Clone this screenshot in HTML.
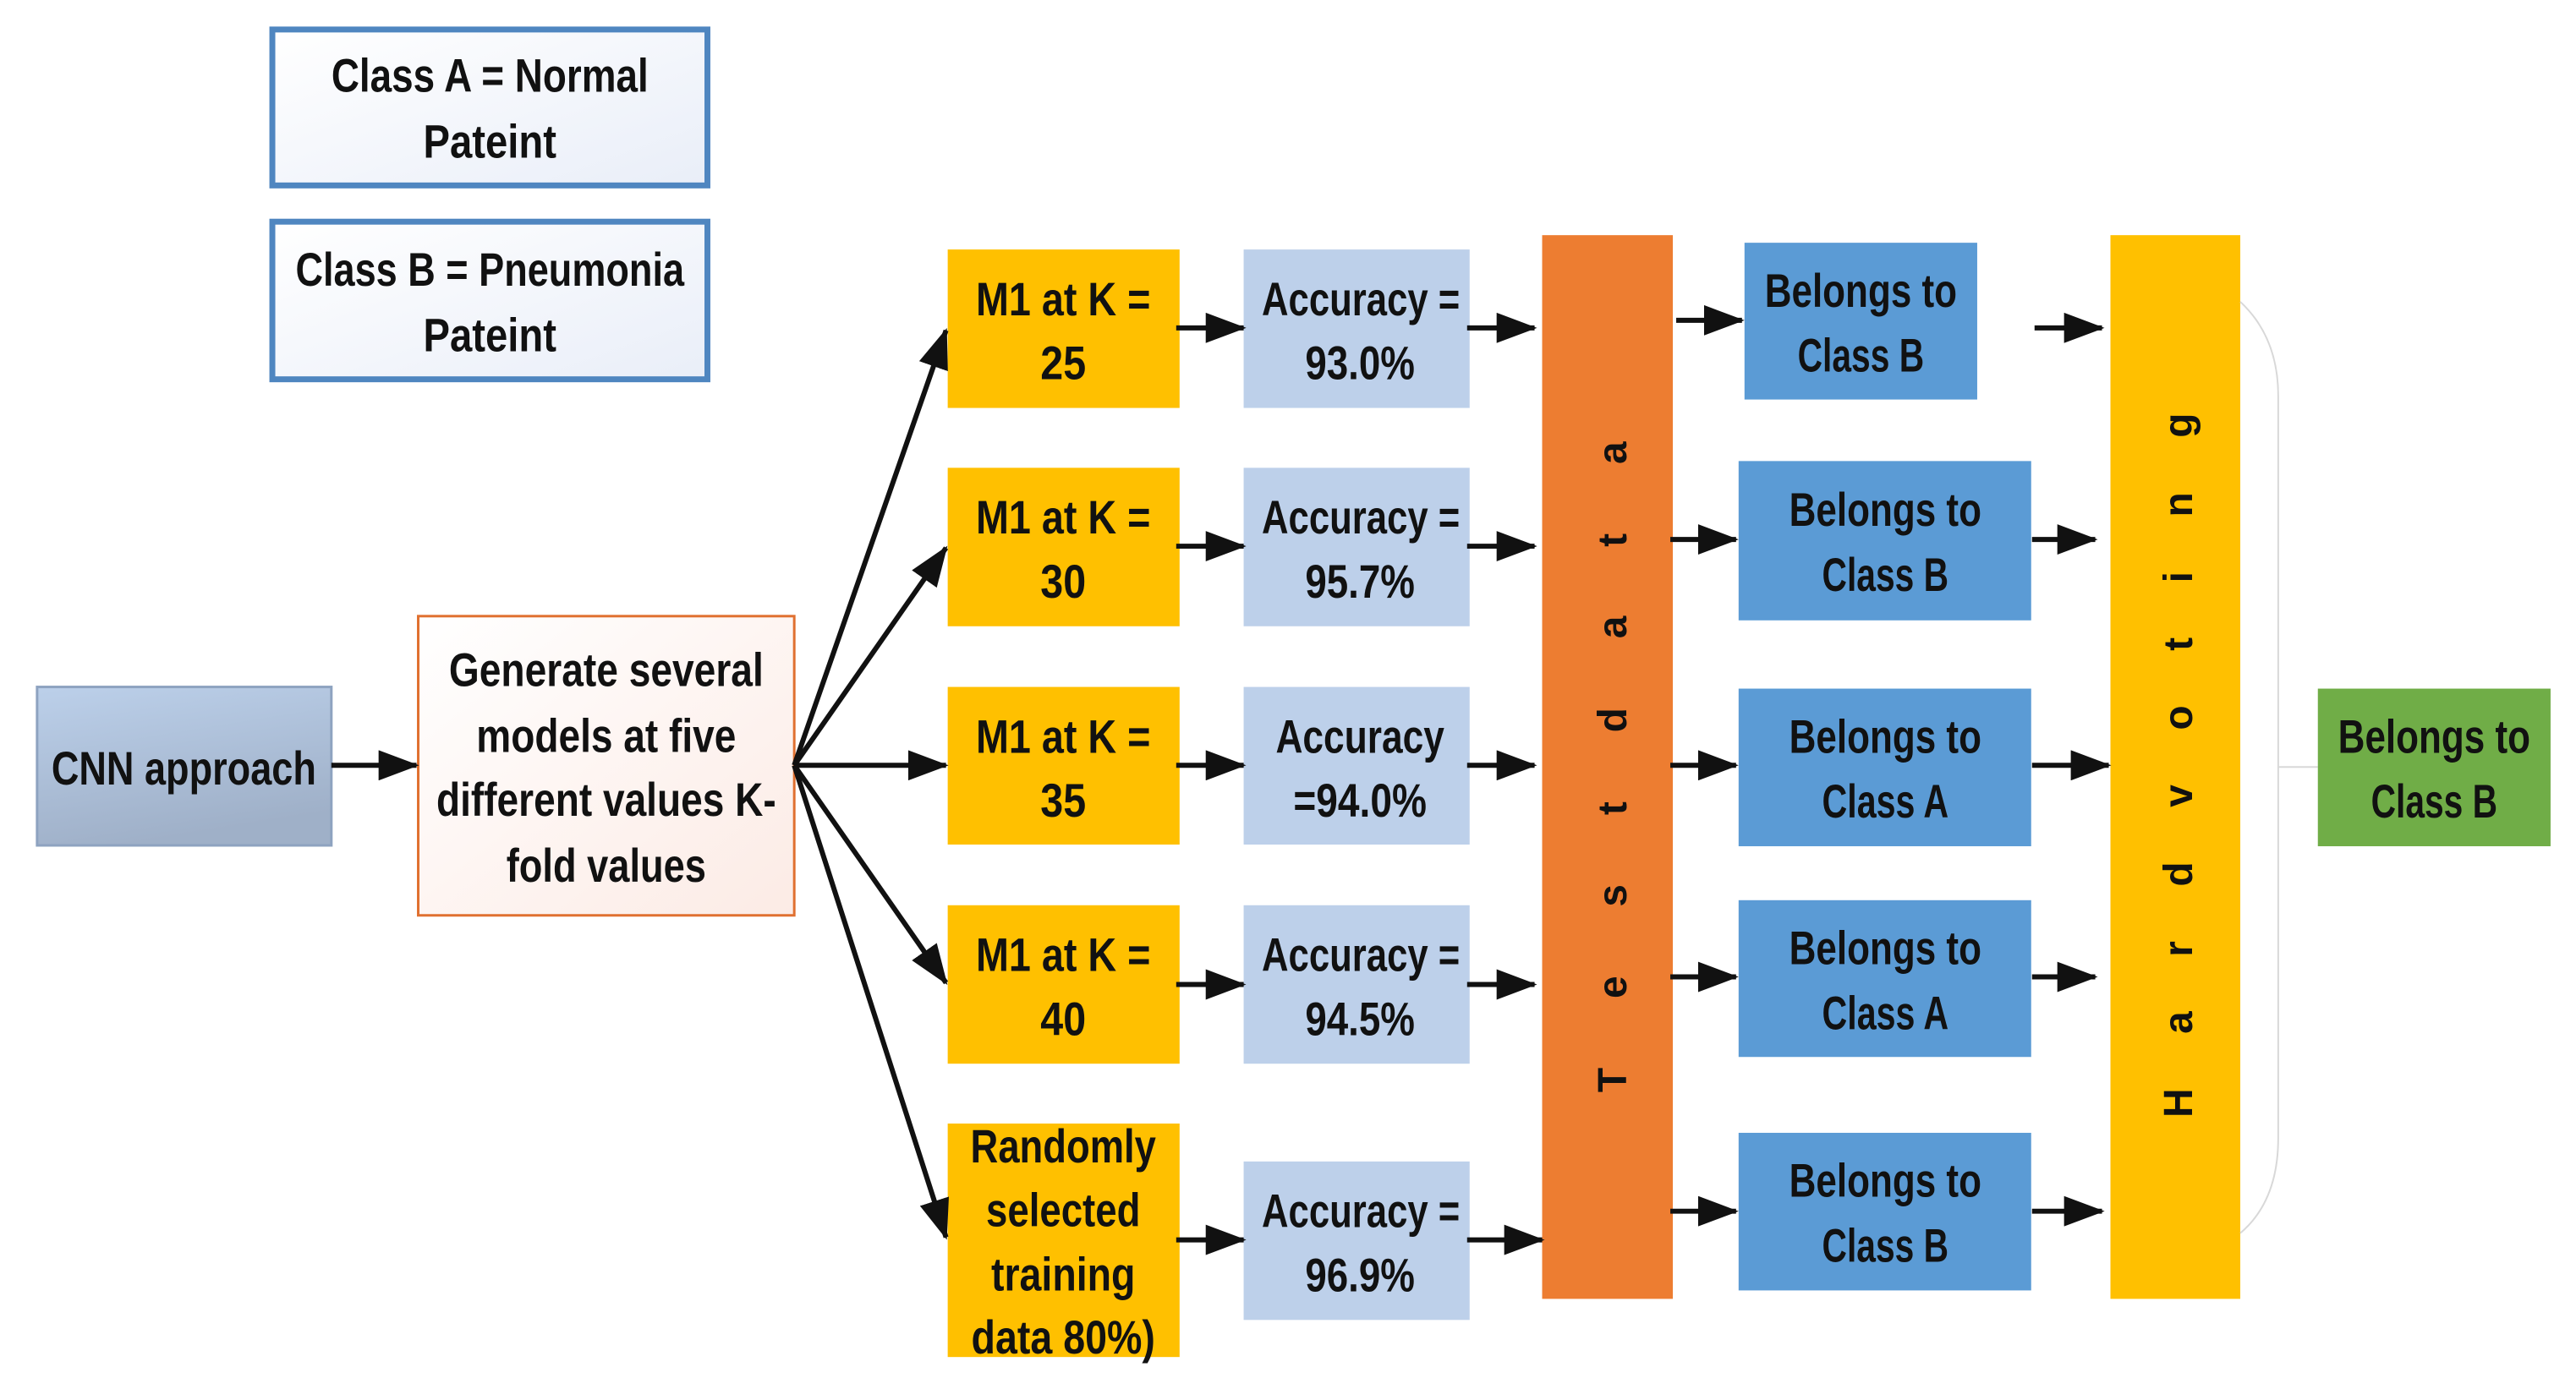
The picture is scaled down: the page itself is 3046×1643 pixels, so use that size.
<!DOCTYPE html>
<html><head><meta charset="utf-8"><style>
html,body{margin:0;padding:0;background:#fff;}
svg{display:block;}
text{font-family:"Liberation Sans",sans-serif;font-size:56px;font-weight:bold;fill:#111;text-anchor:middle;}
</style></head><body>
<svg width="3046" height="1643" viewBox="0 0 3046 1643" xmlns="http://www.w3.org/2000/svg">
<defs>
<linearGradient id="lg" x1="0" y1="0" x2="1" y2="1"><stop offset="0" stop-color="#ffffff"/><stop offset="1" stop-color="#e9eef8"/></linearGradient>
<linearGradient id="cg" x1="0" y1="0" x2="0.3" y2="1"><stop offset="0" stop-color="#bcd0ea"/><stop offset="1" stop-color="#9fb0c8"/></linearGradient>
<linearGradient id="gg" x1="0" y1="0" x2="1" y2="1"><stop offset="0" stop-color="#ffffff"/><stop offset="1" stop-color="#fcebe5"/></linearGradient>
<marker id="ah" markerWidth="8" markerHeight="6" refX="7.5" refY="3" orient="auto" markerUnits="strokeWidth"><path d="M0,0 L8,3 L0,6 z" fill="#111"/></marker>
</defs>
<g transform="scale(0.997)">
<!-- legend -->
<rect x="323" y="35" width="516" height="185" fill="url(#lg)" stroke="#4f86c0" stroke-width="7"/>
<text x="581" y="109" textLength="376" lengthAdjust="spacingAndGlyphs">Class A  = Normal</text>
<text x="581" y="187" textLength="158" lengthAdjust="spacingAndGlyphs">Pateint</text>
<rect x="323" y="263" width="516" height="187" fill="url(#lg)" stroke="#4f86c0" stroke-width="7"/>
<text x="581" y="339" textLength="461" lengthAdjust="spacingAndGlyphs">Class B  = Pneumonia</text>
<text x="581" y="417" textLength="158" lengthAdjust="spacingAndGlyphs">Pateint</text>

<!-- CNN -->
<rect x="44" y="815" width="349" height="188" fill="url(#cg)" stroke="#8ea3c0" stroke-width="3"/>
<text x="218" y="931" textLength="314" lengthAdjust="spacingAndGlyphs">CNN approach</text>

<!-- Generate -->
<rect x="496" y="731" width="446" height="355" fill="url(#gg)" stroke="#e07030" stroke-width="3"/>
<text x="719" y="814" textLength="373" lengthAdjust="spacingAndGlyphs">Generate several</text>
<text x="719" y="892" textLength="308" lengthAdjust="spacingAndGlyphs">models at five</text>
<text x="719" y="968" textLength="403" lengthAdjust="spacingAndGlyphs">different values K-</text>
<text x="719" y="1046" textLength="237" lengthAdjust="spacingAndGlyphs">fold values</text>

<!-- M1 boxes -->
<g fill="#ffc000">
<rect x="1124" y="296" width="275" height="188"/>
<rect x="1124" y="555" width="275" height="188"/>
<rect x="1124" y="815" width="275" height="187"/>
<rect x="1124" y="1074" width="275" height="188"/>
<rect x="1124" y="1333" width="275" height="277"/>
</g>
<text x="1261" y="374" textLength="207" lengthAdjust="spacingAndGlyphs">M1 at K =</text><text x="1261" y="450" textLength="54" lengthAdjust="spacingAndGlyphs">25</text>
<text x="1261" y="633" textLength="207" lengthAdjust="spacingAndGlyphs">M1 at K =</text><text x="1261" y="709" textLength="54" lengthAdjust="spacingAndGlyphs">30</text>
<text x="1261" y="893" textLength="207" lengthAdjust="spacingAndGlyphs">M1 at K =</text><text x="1261" y="969" textLength="54" lengthAdjust="spacingAndGlyphs">35</text>
<text x="1261" y="1152" textLength="207" lengthAdjust="spacingAndGlyphs">M1 at K =</text><text x="1261" y="1228" textLength="54" lengthAdjust="spacingAndGlyphs">40</text>
<text x="1261" y="1379" textLength="220" lengthAdjust="spacingAndGlyphs">Randomly</text>
<text x="1261" y="1455" textLength="183" lengthAdjust="spacingAndGlyphs">selected</text>
<text x="1261" y="1531" textLength="171" lengthAdjust="spacingAndGlyphs">training</text>
<text x="1261" y="1606" textLength="218" lengthAdjust="spacingAndGlyphs">data 80%)</text>

<!-- Accuracy boxes -->
<g fill="#bdd0ea">
<rect x="1475" y="296" width="268" height="188"/>
<rect x="1475" y="555" width="268" height="188"/>
<rect x="1475" y="815" width="268" height="187"/>
<rect x="1475" y="1074" width="268" height="188"/>
<rect x="1475" y="1378" width="268" height="188"/>
</g>
<text x="1614" y="374" textLength="235" lengthAdjust="spacingAndGlyphs">Accuracy =</text><text x="1613" y="450" textLength="130" lengthAdjust="spacingAndGlyphs">93.0%</text>
<text x="1614" y="633" textLength="235" lengthAdjust="spacingAndGlyphs">Accuracy =</text><text x="1613" y="709" textLength="130" lengthAdjust="spacingAndGlyphs">95.7%</text>
<text x="1613" y="893" textLength="200" lengthAdjust="spacingAndGlyphs">Accuracy</text><text x="1613" y="969" textLength="158" lengthAdjust="spacingAndGlyphs">=94.0%</text>
<text x="1614" y="1152" textLength="235" lengthAdjust="spacingAndGlyphs">Accuracy =</text><text x="1613" y="1228" textLength="130" lengthAdjust="spacingAndGlyphs">94.5%</text>
<text x="1614" y="1456" textLength="235" lengthAdjust="spacingAndGlyphs">Accuracy =</text><text x="1613" y="1532" textLength="130" lengthAdjust="spacingAndGlyphs">96.9%</text>

<!-- Test data -->
<rect x="1829" y="279" width="155" height="1262" fill="#ed7d31"/>
<text transform="translate(1929,910) rotate(-90)" textLength="772" lengthAdjust="spacing" style="font-size:48px">T e s t    d a t a</text>

<!-- Belongs boxes -->
<g fill="#5b9bd5">
<rect x="2069" y="288" width="276" height="186"/>
<rect x="2062" y="547" width="347" height="189"/>
<rect x="2062" y="817" width="347" height="187"/>
<rect x="2062" y="1068" width="347" height="186"/>
<rect x="2062" y="1344" width="347" height="187"/>
</g>
<text x="2207" y="364" textLength="228" lengthAdjust="spacingAndGlyphs">Belongs to</text><text x="2207" y="441" textLength="150" lengthAdjust="spacingAndGlyphs">Class B</text>
<text x="2236" y="624" textLength="228" lengthAdjust="spacingAndGlyphs">Belongs to</text><text x="2236" y="701" textLength="150" lengthAdjust="spacingAndGlyphs">Class B</text>
<text x="2236" y="893" textLength="228" lengthAdjust="spacingAndGlyphs">Belongs to</text><text x="2236" y="970" textLength="150" lengthAdjust="spacingAndGlyphs">Class A</text>
<text x="2236" y="1144" textLength="228" lengthAdjust="spacingAndGlyphs">Belongs to</text><text x="2236" y="1221" textLength="150" lengthAdjust="spacingAndGlyphs">Class A</text>
<text x="2236" y="1420" textLength="228" lengthAdjust="spacingAndGlyphs">Belongs to</text><text x="2236" y="1497" textLength="150" lengthAdjust="spacingAndGlyphs">Class B</text>

<!-- Hard voting -->
<rect x="2503" y="279" width="154" height="1262" fill="#ffc000"/>
<text transform="translate(2600,908) rotate(-90)" textLength="836" lengthAdjust="spacing" style="font-size:48px">H a r d  v o t i n g</text>

<!-- bracket -->
<path d="M2657,358 Q2702,400 2702,470 L2702,1350 Q2702,1425 2657,1463" fill="none" stroke="#d8d8d8" stroke-width="2"/>
<line x1="2702" y1="910" x2="2749" y2="910" stroke="#d8d8d8" stroke-width="2"/>

<!-- final -->
<rect x="2749" y="817" width="276" height="187" fill="#70ad47"/>
<text x="2887" y="893" textLength="228" lengthAdjust="spacingAndGlyphs">Belongs to</text><text x="2887" y="970" textLength="150" lengthAdjust="spacingAndGlyphs">Class B</text>

<!-- arrows -->
<g stroke="#111" stroke-width="6" marker-end="url(#ah)" fill="none">
<line x1="393" y1="908" x2="494" y2="908"/>
<line x1="942" y1="908" x2="1122" y2="392"/>
<line x1="942" y1="908" x2="1122" y2="650"/>
<line x1="942" y1="908" x2="1122" y2="908"/>
<line x1="942" y1="908" x2="1122" y2="1166"/>
<line x1="942" y1="908" x2="1122" y2="1468"/>

<line x1="1395" y1="389" x2="1475" y2="389"/>
<line x1="1395" y1="648" x2="1475" y2="648"/>
<line x1="1395" y1="908" x2="1475" y2="908"/>
<line x1="1395" y1="1168" x2="1475" y2="1168"/>
<line x1="1395" y1="1471" x2="1475" y2="1471"/>

<line x1="1740" y1="389" x2="1820" y2="389"/>
<line x1="1740" y1="648" x2="1820" y2="648"/>
<line x1="1740" y1="908" x2="1820" y2="908"/>
<line x1="1740" y1="1168" x2="1820" y2="1168"/>
<line x1="1740" y1="1471" x2="1829" y2="1471"/>

<line x1="1988" y1="380" x2="2066" y2="380"/>
<line x1="1981" y1="640" x2="2059" y2="640"/>
<line x1="1981" y1="908" x2="2059" y2="908"/>
<line x1="1981" y1="1159" x2="2059" y2="1159"/>
<line x1="1981" y1="1437" x2="2059" y2="1437"/>

<line x1="2413" y1="389" x2="2493" y2="389"/>
<line x1="2410" y1="640" x2="2485" y2="640"/>
<line x1="2410" y1="908" x2="2501" y2="908"/>
<line x1="2410" y1="1159" x2="2485" y2="1159"/>
<line x1="2410" y1="1437" x2="2493" y2="1437"/>
</g>
</g>
</svg>
</body></html>
